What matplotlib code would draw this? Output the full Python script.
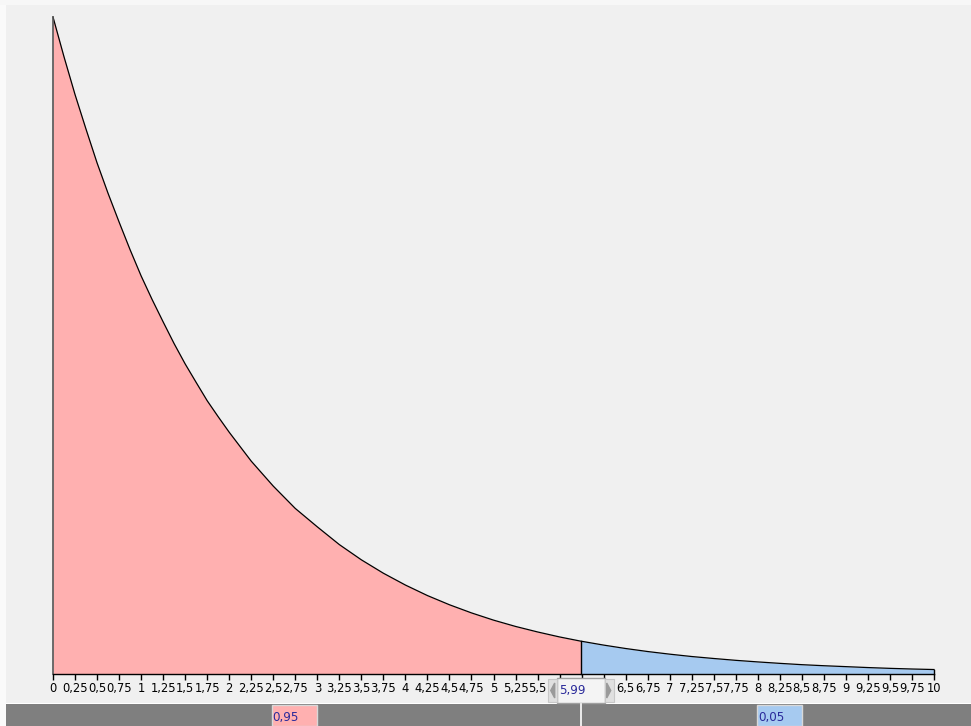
import numpy as np
import matplotlib
matplotlib.use("Agg")
import matplotlib.pyplot as plt
from matplotlib.patches import Rectangle, Polygon
from matplotlib.lines import Line2D
from matplotlib.transforms import blended_transform_factory

# density (chi-square, 2 df look)
x_vals = [0, 0.125, 0.25, 0.375, 0.5, 0.625, 0.75, 0.875, 1, 1.125, 1.25,
          1.375, 1.5, 1.625, 1.75, 1.875, 2, 2.25, 2.5, 2.75, 3,
          3.25, 3.5, 3.75, 4, 4.25, 4.5, 4.75, 5, 5.25, 5.5, 5.75, 5.99,
          6, 6.25, 6.5, 6.75, 7, 7.25, 7.5, 7.75, 8, 8.25, 8.5, 8.75, 9,
          9.25, 9.5, 9.75, 10]
dens = [0.5, 0.4697, 0.441, 0.4146, 0.389, 0.3658, 0.344, 0.3229, 0.303,
        0.2850, 0.268, 0.2514, 0.236, 0.2219, 0.208, 0.1958, 0.184, 0.162,
        0.143, 0.126, 0.112, 0.0985, 0.0869, 0.0767, 0.0677, 0.0597, 0.0527,
        0.0465, 0.0410, 0.0362, 0.0320, 0.0282, 0.0250, 0.0249, 0.0220,
        0.0194, 0.0171, 0.0151, 0.0133, 0.0118, 0.0104, 0.0092, 0.0081,
        0.0071, 0.0063, 0.0056, 0.0049, 0.0043, 0.0038, 0.0034]
crit = 5.99
crit_label = "5,99"
left_prob = "0,95"
right_prob = "0,05"
tick_vals = np.arange(0, 10.01, 0.25)

W, H = 971, 726
pink = "#FFB0B0"
blue = "#A6CAF0"
text_blue = "#2A2A9A"

fig = plt.figure(figsize=(W / 100, H / 100), dpi=100)
fig.patch.set_facecolor("#F0F0F0")

def px(x0, y0, w, h):
    # pixel box (top-left origin) -> figure fraction
    return [x0 / W, 1 - (y0 + h) / H, w / W, h / H]

ax = fig.add_axes(px(53, 17, 881, 657))
ax.set_facecolor("none")
ax.set_xlim(0, 10)
ax.set_ylim(0, 0.5)

x = np.array(x_vals)
y = np.array(dens)
left = x <= crit
right = x >= crit
ax.fill_between(x[left], 0, y[left], color=pink, lw=0)
ax.fill_between(x[right], 0, y[right], color=blue, lw=0)
ax.plot(x, y, color="black", lw=0.9, clip_on=False)
ax.plot([0, 0], [0, dens[0]], color="#555555", lw=1.2, clip_on=False)
ci = x_vals.index(crit)
ax.plot([crit, crit], [0, dens[ci]], color="black", lw=1, clip_on=False)
ax.plot([10, 10], [0, dens[-1]], color="black", lw=1, clip_on=False)

for s in ["top", "left", "right"]:
    ax.spines[s].set_visible(False)
ax.spines["bottom"].set_color("black")
ax.spines["bottom"].set_linewidth(1)
ax.set_yticks([])
ax.set_xticks(tick_vals)
labels = [("%g" % t).replace(".", ",") for t in tick_vals]
# the spinner box hides the labels under it
labels = ["" if abs(t - crit) < 0.3 else l for t, l in zip(tick_vals, labels)]
ax.set_xticklabels(labels, fontsize=8.3)
ax.tick_params(axis="x", direction="out", length=4, width=1, pad=2, colors="black")

# window edges
fig.add_artist(Rectangle((0, 0), 6 / W, 1, transform=fig.transFigure,
                         color="#FAFAFA", lw=0))
fig.add_artist(Rectangle((0, 1 - 5 / H), 1, 5 / H, transform=fig.transFigure,
                         color="#F7F7F7", lw=0))

# bottom probability bar
fig.add_artist(Rectangle((6 / W, 0), 1, 22 / H, transform=fig.transFigure,
                         color="#7F7F7F", lw=0))
fig.add_artist(Rectangle((6 / W, 22 / H), 1, 1.2 / H, transform=fig.transFigure,
                         color="white", lw=0))
bt = blended_transform_factory(ax.transData, fig.transFigure)
fig.add_artist(Line2D([crit, crit], [0, 22 / H], transform=bt,
                      color="white", lw=1.2))
bw = 45 / 88.1
mid_l = crit / 2
mid_r = (crit + 10) / 2
fig.add_artist(Rectangle((mid_l - bw, 0), bw, 21 / H, transform=bt,
                         facecolor=pink, edgecolor="#D8D8D8", lw=1))
fig.text(mid_l - bw + 0.01, 9 / H, left_prob, transform=bt,
         color=text_blue, fontsize=8.6, va="center", ha="left")
fig.add_artist(Rectangle((mid_r, 0), bw, 21 / H, transform=bt,
                         facecolor=blue, edgecolor="#D8D8D8", lw=1))
fig.text(mid_r + 0.01, 9 / H, right_prob, transform=bt,
         color=text_blue, fontsize=8.6, va="center", ha="left")

# spinner box for the critical value
sx = 88.1
y0 = (H - 703) / H
hh = 25 / H
fig.add_artist(Rectangle((crit - 24 / sx, y0), 48 / sx, hh, transform=bt,
                         facecolor="#F4F4F4", edgecolor="#A0A0A0", lw=1))
fig.add_artist(Rectangle((crit - 33 / sx, y0 + 1 / H), 9 / sx, hh - 2 / H,
                         transform=bt, facecolor="#E0E0E0",
                         edgecolor="#C8C8C8", lw=0.8))
fig.add_artist(Rectangle((crit + 24 / sx, y0 + 1 / H), 9 / sx, hh - 2 / H,
                         transform=bt, facecolor="#E0E0E0",
                         edgecolor="#C8C8C8", lw=0.8))
fig.add_artist(Polygon([[crit - 26 / sx, y0 + 5 / H], [crit - 26 / sx, y0 + 20 / H],
                        [crit - 30 / sx, y0 + 12.5 / H]], closed=True,
                       transform=bt, color="#9A9A9A"))
fig.add_artist(Polygon([[crit + 26 / sx, y0 + 5 / H], [crit + 26 / sx, y0 + 20 / H],
                        [crit + 30 / sx, y0 + 12.5 / H]], closed=True,
                       transform=bt, color="#9A9A9A"))
fig.text(crit - 22 / sx, y0 + hh / 2, crit_label, transform=bt,
         color=text_blue, fontsize=8.6, va="center", ha="left")

fig.savefig("out.png", dpi=100, facecolor=fig.get_facecolor())
